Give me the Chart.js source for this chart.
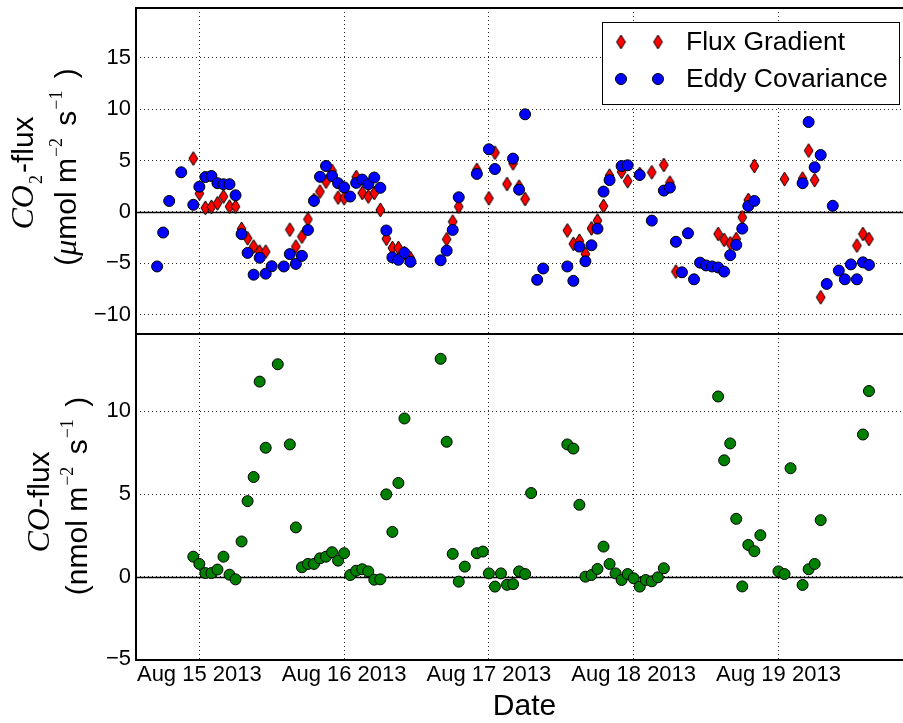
<!DOCTYPE html>
<html>
<head>
<meta charset="utf-8">
<script src="https://cdn.jsdelivr.net/npm/chart.js@4.4.0/dist/chart.umd.min.js"></script>
<style>
  html, body { margin: 0; padding: 0; background: #fff; overflow: hidden; }
  #wrap { position: relative; width: 903px; height: 723px; overflow: hidden; background: #fff; }
  #wrap canvas { position: absolute; left: 0; top: 0; }
</style>
</head>
<body>
<div id="wrap">
  <canvas id="coChart" width="920" height="723"></canvas>
  <canvas id="co2Chart" width="920" height="723"></canvas>
</div>
<script>
// Sample times are hours since 2013-08-15 00:00.

// CO2 flux, flux-gradient method (umol m-2 s-1)
const fgHours = [-1, 0, 1, 2, 3, 4, 5, 6, 7, 8, 9, 10, 11,
  15, 16, 17, 18, 19, 20, 21, 22, 23, 24, 26, 27, 28, 29, 30, 31, 32, 33, 34, 35,
  41, 42, 43, 46, 48, 49, 51, 52, 53, 54,
  61, 62, 63, 64, 65, 66, 67, 68, 70, 71, 73, 75, 77, 78, 79,
  86, 87, 88, 89, 90, 91, 92,
  97, 100, 101, 102, 103, 109, 110, 111];
const fgFlux = [5.2, 1.8, 0.4, 0.5, 0.84, 1.5, 0.52, 0.52, -1.65, -2.56, -3.37, -3.86, -3.86,
  -1.72, -3.37, -2.4, -0.71, 1.17, 1.98, 2.95, 4.0, 1.4, 1.33, 3.4, 1.85, 1.5, 1.85, 0.2, -2.6, -3.5, -3.5, -4.0, -4.5,
  -2.66, -0.94, 0.52, 4.1, 1.33, 5.77, 2.72, 4.73, 2.46, 1.26,
  -1.8, -3.1, -2.8, -4.1, -1.6, -0.84, 0.58, 3.53, 3.9, 3.0, 3.7, 3.86, 4.57, 2.85, -5.8,
  -2.14, -2.72, -3.05, -2.63, -0.52, 1.17, 4.47,
  3.2, 3.24, 5.97, 3.1, -8.3, -3.27, -2.14, -2.63];

// CO2 flux, eddy-covariance method (umol m-2 s-1)
const ecHours = [-7, -6, -5, -3, -1, 0, 1, 2, 3, 4, 5, 6, 7, 8, 9, 10, 11, 12, 14, 15, 16, 17,
  18, 19, 20, 21, 22, 23, 24, 25, 26, 27, 28, 29, 30, 31, 32, 33, 34, 35,
  40, 41, 42, 43, 46, 48, 49, 52, 53, 54, 56, 57,
  61, 62, 63, 64, 65, 66, 67, 68, 70, 71, 73, 75, 77, 78, 79, 80, 81, 82, 83, 84, 85, 86, 87, 88, 89, 90, 91, 92,
  100, 101, 102, 103, 104, 105, 106, 107, 108, 109, 110, 111];
const ecFlux = [-5.3, -2.0, 1.07, 3.86, 0.7, 2.46, 3.4, 3.5, 2.8, 2.7, 2.7, 1.62, -2.15, -3.98, -6.1, -4.45, -6.0, -5.28, -5.3, -4.1, -5.05, -4.27,
  -1.75, 1.08, 3.42, 4.47, 3.5, 2.8, 2.4, 1.5, 2.83, 3.15, 2.7, 3.35, 2.35, -1.8, -4.42, -4.65, -3.97, -4.85,
  -4.7, -3.76, -1.75, 1.43, 3.7, 6.1, 4.18, 5.19, 2.17, 9.5, -6.6, -5.5,
  -5.3, -6.7, -3.37, -4.8, -3.24, -1.62, 1.98, 3.1, 4.47, 4.54, 3.6, -0.84, 2.08, 2.37, -2.9, -5.87, -2.07, -6.55, -4.93, -5.2, -5.3, -5.4, -5.8, -4.2, -3.2, -1.62, 0.58, 1.07,
  2.8, 8.75, 4.35, 5.54, -7.0, 0.6, -5.7, -6.55, -5.1, -6.55, -4.9, -5.15];

// CO flux (nmol m-2 s-1)
const coHours = [-1, 0, 1, 2, 3, 4, 5, 6, 7, 8, 9, 10, 11, 13, 15, 16, 17, 18, 19, 20, 21, 22, 23,
  24, 25, 26, 27, 28, 29, 30, 31, 32, 33, 34, 40, 41, 42, 43, 44, 46, 47,
  48, 49, 50, 51, 52, 53, 54, 55, 61, 62, 63, 64, 65, 66, 67, 68, 69, 70, 71,
  72, 73, 74, 75, 76, 77, 86, 87, 88, 89, 90, 91, 92, 93,
  96, 97, 98, 100, 101, 102, 103, 110, 111];
const coFlux = [1.21, 0.77, 0.22, 0.22, 0.43, 1.21, 0.12, -0.16, 2.13, 4.57, 6.03, 11.8, 7.8, 12.85, 8.0, 2.98, 0.57, 0.77, 0.77, 1.11, 1.21, 1.48, 0.97,
  1.42, 0.1, 0.36, 0.45, 0.32, -0.18, -0.16, 4.98, 2.71, 5.67, 9.57, 13.18, 8.16, 1.38, -0.3, 0.61, 1.42, 1.52,
  0.2, -0.6, 0.2, -0.49, -0.45, 0.32, 0.16, 5.06, 8.0, 7.75, 4.35, 0.0, 0.1, 0.47, 1.82, 0.77, 0.2, -0.2, 0.16,
  -0.1, -0.6, -0.2, -0.28, -0.04, 0.51, 10.9, 7.04, 8.06, 3.5, -0.59, 1.92, 1.54, 2.51,
  0.32, 0.16, 6.56, -0.5, 0.45, 0.77, 3.42, 8.6, 11.23];

// Axis ticks
const dayTicks = [0, 24, 48, 72, 96];
const dayLabels = ['Aug 15 2013', 'Aug 16 2013', 'Aug 17 2013', 'Aug 18 2013', 'Aug 19 2013'];
const co2Ticks = [-10, -5, 0, 5, 10, 15];
const coTicks = [-5, 0, 5, 10];

const seriesNames = ['Flux Gradient', 'Eddy Covariance', 'CO flux'];

const SANS = "'Liberation Sans', Arial, Helvetica, sans-serif";
const SERIF = "'Liberation Serif', 'Times New Roman', serif";
const X_MIN = -10.5, X_MAX = 118.3;

const toPoints = (xs, ys) => xs.map((x, i) => ({ x: x, y: ys[i] }));
const fmtTick = v => (v < 0 ? '\u2212' + Math.abs(v) : String(v));

// thin diamond marker as an offscreen canvas
function thinDiamond(fill) {
  const c = document.createElement('canvas');
  c.width = 11; c.height = 16;
  const g = c.getContext('2d');
  g.beginPath();
  g.moveTo(5.5, 1.0);
  g.lineTo(9.9, 8);
  g.lineTo(5.5, 15.0);
  g.lineTo(1.1, 8);
  g.closePath();
  g.fillStyle = fill;
  g.fill();
  g.lineWidth = 1;
  g.strokeStyle = '#000';
  g.stroke();
  return c;
}
const diamondRed = thinDiamond('#ff0000');

// draw a rotated (bottom-to-top) line of mixed-style text runs
function drawVerticalRuns(ctx, runs, baseX, centerY) {
  ctx.save();
  let total = 0;
  runs.forEach(r => {
    ctx.font = r.font;
    r.w = ctx.measureText(r.text).width + (r.pre || 0) + (r.post || 0);
    total += r.w;
  });
  ctx.translate(baseX, centerY);
  ctx.rotate(-Math.PI / 2);
  ctx.fillStyle = '#000';
  ctx.textBaseline = 'alphabetic';
  ctx.textAlign = 'left';
  let x = -total / 2;
  runs.forEach(r => {
    ctx.font = r.font;
    ctx.fillText(r.text, x + (r.pre || 0), r.dy || 0);
    x += r.w;
  });
  ctx.restore();
}

const MAIN = '30px ' + SANS;
const MATH = 'italic 32px ' + SERIF;
const SCRIPT = '18px ' + SERIF;
const SUP = -14, SUB = 9;

const co2Title = [
  [{ text: 'CO', font: MATH }, { text: '2', font: SCRIPT, dy: SUB, pre: 1, post: 2 }, { text: '-flux', font: MAIN }],
  [{ text: '(', font: MAIN }, { text: '\u03bc', font: MATH }, { text: 'mol m', font: MAIN },
   { text: '\u22122', font: SCRIPT, dy: SUP, pre: 1, post: 4 }, { text: ' s', font: MAIN },
   { text: '\u22121', font: SCRIPT, dy: SUP, pre: 1, post: 4 }, { text: ' )', font: MAIN }]
];
const coTitle = [
  [{ text: 'CO', font: MATH }, { text: '-flux', font: MAIN }],
  [{ text: '(nmol m', font: MAIN }, { text: '\u22122', font: SCRIPT, dy: SUP, pre: 1, post: 4 }, { text: ' s', font: MAIN },
   { text: '\u22121', font: SCRIPT, dy: SUP, pre: 1, post: 4 }, { text: ' )', font: MAIN }]
];

// frame, zero line and y-axis title for one panel
function panelPlugin(title, titlePos) {
  return {
    id: 'panel',
    beforeDatasetsDraw(chart) {
      const ctx = chart.ctx, ca = chart.chartArea;
      const y0 = Math.round(chart.scales.y.getPixelForValue(0)) + 0.5;
      ctx.save();
      ctx.strokeStyle = '#000';
      ctx.lineWidth = 1.6;
      ctx.beginPath();
      ctx.moveTo(ca.left, y0);
      ctx.lineTo(ca.right, y0);
      ctx.stroke();
      ctx.restore();
    },
    afterDraw(chart) {
      const ctx = chart.ctx, ca = chart.chartArea;
      ctx.save();
      ctx.strokeStyle = '#000';
      ctx.lineWidth = 2;
      ctx.strokeRect(ca.left, ca.top, ca.right - ca.left, ca.bottom - ca.top);
      ctx.restore();
      title.forEach((runs, i) => drawVerticalRuns(ctx, runs, titlePos[i][0], titlePos[i][1]));
    }
  };
}

// two-marker legend box in the upper right corner
const legendPlugin = {
  id: 'fluxLegend',
  afterDraw(chart) {
    const ctx = chart.ctx, ca = chart.chartArea;
    const right = ca.right - 14, top = ca.top + 14, w = 297, h = 82;
    const left = right - w;
    ctx.save();
    ctx.fillStyle = '#fff';
    ctx.fillRect(left, top, w, h);
    ctx.strokeStyle = '#000';
    ctx.lineWidth = 1;
    ctx.strokeRect(Math.round(left) + 0.5, Math.round(top) + 0.5, w, h);
    const rows = [top + 20, top + 57];
    const mx = [left + 19, left + 56];
    chart.data.datasets.slice().sort((a, b) => a.legendIndex - b.legendIndex).forEach((ds, i) => {
      const y = rows[i];
      mx.forEach(x => {
        if (typeof ds.pointStyle === 'object') {
          ctx.drawImage(ds.pointStyle, x - ds.pointStyle.width / 2, y - ds.pointStyle.height / 2);
        } else {
          ctx.beginPath();
          ctx.arc(x, y, ds.pointRadius, 0, Math.PI * 2);
          ctx.fillStyle = ds.backgroundColor;
          ctx.fill();
          ctx.lineWidth = 1;
          ctx.strokeStyle = '#000';
          ctx.stroke();
        }
      });
      ctx.fillStyle = '#000';
      ctx.font = '26.5px ' + SANS;
      ctx.textBaseline = 'middle';
      ctx.textAlign = 'left';
      ctx.fillText(ds.label, left + 84, y + 1);
    });
    ctx.restore();
  }
};

function xScale(showLabels) {
  return {
    type: 'linear',
    min: X_MIN,
    max: X_MAX,
    afterBuildTicks: axis => { axis.ticks = dayTicks.map(v => ({ value: v })); },
    ticks: {
      display: showLabels,
      color: '#000',
      font: { family: SANS, size: 22 },
      padding: 2,
      maxRotation: 0,
      autoSkip: false,
      callback: v => { const i = dayTicks.indexOf(v); return i >= 0 ? dayLabels[i] : ''; }
    },
    grid: { color: 'rgba(0,0,0,0.85)', lineWidth: 1, drawTicks: false },
    border: { display: false, dash: [1, 3] },
    title: showLabels ? {
      display: true, text: 'Date', color: '#000',
      font: { family: SANS, size: 30, lineHeight: 1 }, padding: { top: 0, bottom: 1 }
    } : { display: false },
    afterFit: s => { s.height = showLabels ? 63 : 0; s.paddingLeft = 0; s.paddingRight = 0; }
  };
}

function yScale(min, max, tickList) {
  return {
    type: 'linear',
    min: min,
    max: max,
    afterBuildTicks: axis => { axis.ticks = tickList.map(v => ({ value: v })); },
    ticks: { color: '#000', font: { family: SANS, size: 22 }, padding: 5, callback: fmtTick },
    grid: { color: 'rgba(0,0,0,0.85)', lineWidth: 1, drawTicks: false },
    border: { display: false, dash: [1, 3] },
    afterFit: s => { s.width = 80; s.paddingTop = 0; s.paddingBottom = 0; }
  };
}

const common = {
  responsive: false,
  animation: false,
  events: [],
  plugins: { legend: { display: false }, tooltip: { enabled: false } }
};

// CO2 panel (top)
new Chart(document.getElementById('co2Chart'), {
  type: 'scatter',
  data: {
    datasets: [
      {
        label: seriesNames[1], legendIndex: 1, order: 0,
        data: toPoints(ecHours, ecFlux),
        pointStyle: 'circle', pointRadius: 5.5, backgroundColor: '#0000ff',
        borderColor: '#000', borderWidth: 1
      },
      {
        label: seriesNames[0], legendIndex: 0, order: 1,
        data: toPoints(fgHours, fgFlux),
        pointStyle: diamondRed, pointRadius: 6, backgroundColor: '#ff0000',
        borderColor: '#000', borderWidth: 1
      }
    ]
  },
  options: Object.assign({}, common, {
    layout: { padding: { left: 56, right: 7, top: 8, bottom: 389 } },
    scales: { x: xScale(false), y: yScale(-11.87, 19.84, co2Ticks) }
  }),
  plugins: [panelPlugin(co2Title, [[33, 173], [76, 167]]), legendPlugin]
});

// CO panel (bottom)
new Chart(document.getElementById('coChart'), {
  type: 'scatter',
  data: {
    datasets: [{
      label: seriesNames[2],
      data: toPoints(coHours, coFlux),
      pointStyle: 'circle', pointRadius: 5.5, backgroundColor: '#008000',
      borderColor: '#000', borderWidth: 1
    }]
  },
  options: Object.assign({}, common, {
    layout: { padding: { left: 56, right: 7, top: 334, bottom: 0 } },
    scales: { x: xScale(true), y: yScale(-5.04, 14.68, coTicks) }
  }),
  plugins: [panelPlugin(coTitle, [[49, 502], [87, 496]])]
});
</script>
</body>
</html>
